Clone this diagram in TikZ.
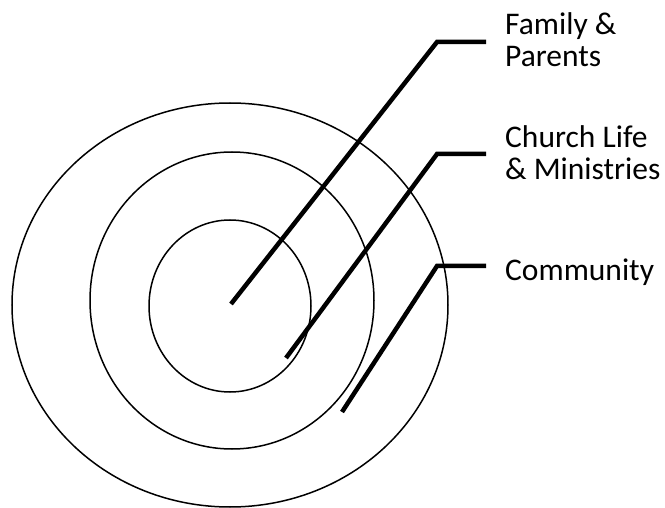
\documentclass[tikz,border=0pt]{standalone}
\usepackage{fontspec}
\setmainfont{Carlito}
\begin{document}
\begin{tikzpicture}[x=1pt,y=-1pt,
  ring/.style={draw=black,line width=1.5pt},
  leader/.style={draw=black,line width=4.5pt,line join=miter},
  lab/.style={anchor=base west,inner sep=0pt,font=\fontsize{31.5}{32}\selectfont,align=left}]
\useasboundingbox (0,0) rectangle (665,508);
\draw[ring] (230,305) ellipse [x radius=218, y radius=202];
\draw[ring] (232,300.5) ellipse [x radius=142, y radius=148.5];
\draw[ring] (230,306) ellipse [x radius=81, y radius=86];
% anchor points
\coordinate (famA) at (231,304);
\coordinate (famB) at (437,42);
\coordinate (famC) at (486,42);
\coordinate (chA) at (286,358);
\coordinate (chB) at (437,154);
\coordinate (chC) at (486,154);
\coordinate (coA) at (342,412);
\coordinate (coB) at (437,266);
\coordinate (coC) at (486,266);
\draw[leader] (famA) -- (famB) -- (famC);
\draw[leader] (chA) -- (chB) -- (chC);
\draw[leader] (coA) -- (coB) -- (coC);
\node[lab] (fam) at (505,67) {Family \&\\Parents};
\node[lab] (ch) at (505,180) {Church Life\\\& Ministries};
\node[lab] (co) at (505,280) {Community};
\end{tikzpicture}
\end{document}
